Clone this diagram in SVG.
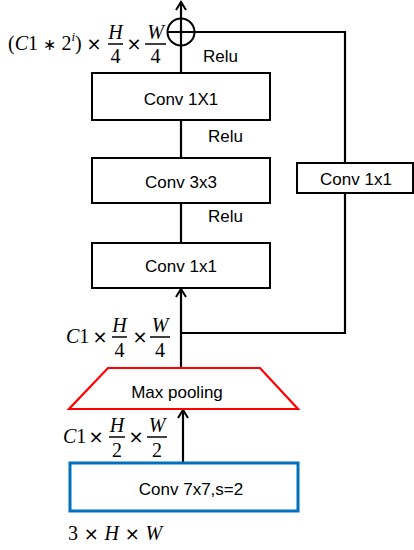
<svg xmlns="http://www.w3.org/2000/svg" width="414" height="550" viewBox="0 0 414 550">
<defs>
<marker id="arr" viewBox="0 0 12 12" refX="10" refY="6" markerWidth="12" markerHeight="12" markerUnits="userSpaceOnUse" orient="auto">
<path d="M2,1 L10,6 L2,11" fill="none" stroke="#000" stroke-width="2"/>
</marker>
<style>
.box{fill:#fff;stroke:#000;stroke-width:2}
.lbl{font-family:"Liberation Sans",Arial,sans-serif;font-size:17px;fill:#000}
.c{text-anchor:middle}
.ln{fill:none;stroke:#000;stroke-width:2.2}
.m{font-family:"Liberation Serif","Times New Roman",serif;font-size:20px;fill:#000}
.mi{font-style:italic}
.x{font-family:"DejaVu Sans",sans-serif;font-size:18px;text-anchor:middle;fill:#000}
.bar{stroke:#000;stroke-width:1.5}
</style>
</defs>
<rect width="414" height="550" fill="#fff"/>
<g id="connectors">
<line class="ln" x1="181" y1="73" x2="181" y2="2" marker-end="url(#arr)"/>
<line class="ln" x1="181" y1="158" x2="181" y2="120"/>
<line class="ln" x1="181" y1="243" x2="181" y2="203"/>
<line class="ln" x1="181" y1="368" x2="181" y2="289" marker-end="url(#arr)"/>
<line class="ln" x1="183" y1="463" x2="183" y2="410" marker-end="url(#arr)"/>
<polyline class="ln" points="194,32 345,32 345,333 181,333"/>
</g>
<g id="add">
<circle cx="181" cy="32" r="13.5" fill="none" stroke="#000" stroke-width="2"/>
<line x1="167.5" y1="32" x2="194.5" y2="32" stroke="#000" stroke-width="2"/>
</g>
<g id="conv1x1_top">
<rect class="box" x="92" y="73" width="178" height="47"/>
<text class="lbl c" x="181" y="105">Conv 1X1</text>
</g>
<g id="conv3x3">
<rect class="box" x="92" y="158" width="178" height="45"/>
<text class="lbl c" x="181" y="188">Conv 3x3</text>
</g>
<g id="conv1x1_bottom">
<rect class="box" x="92" y="243" width="178" height="45"/>
<text class="lbl c" x="181" y="272">Conv 1x1</text>
</g>
<g id="conv1x1_side">
<rect class="box" x="297" y="163" width="116" height="30"/>
<text class="lbl c" x="356" y="185">Conv 1x1</text>
</g>
<g id="maxpool">
<polygon points="108,368 260,368 298,409 69,409" fill="#fff" stroke="#FF0000" stroke-width="2.2"/>
<text class="lbl c" x="177" y="398">Max pooling</text>
</g>
<g id="conv7x7">
<rect x="70" y="463" width="228" height="48" fill="#fff" stroke="#0070C0" stroke-width="3"/>
<text class="lbl c" x="191" y="495">Conv 7x7,s=2</text>
</g>
<g id="relu_labels">
<text class="lbl" x="203" y="62">Relu</text>
<text class="lbl" x="208" y="142">Relu</text>
<text class="lbl" x="208" y="222">Relu</text>
</g>
<g id="dim_top">
<text class="m" x="8" y="50">(<tspan class="mi">C</tspan>1 <tspan font-family="DejaVu Sans" font-size="16">∗</tspan> 2<tspan class="mi" font-size="13" dy="-9">i</tspan><tspan dy="9">)</tspan></text>
<text class="x" x="94" y="50">×</text>
<text class="m mi c" x="115.5" y="39">H</text>
<line class="bar" x1="108" y1="44" x2="123" y2="44"/>
<text class="m c" x="115.5" y="63">4</text>
<text class="x" x="134" y="50">×</text>
<text class="m mi c" x="155.5" y="39">W</text>
<line class="bar" x1="145" y1="44" x2="166" y2="44"/>
<text class="m c" x="155.5" y="63">4</text>
</g>
<g id="dim_mid">
<text class="m" x="66" y="343"><tspan class="mi">C</tspan>1</text>
<text class="x" x="100" y="343">×</text>
<text class="m mi c" x="119.5" y="332">H</text>
<line class="bar" x1="112" y1="337" x2="127" y2="337"/>
<text class="m c" x="119.5" y="357">4</text>
<text class="x" x="140" y="343">×</text>
<text class="m mi c" x="160" y="332">W</text>
<line class="bar" x1="150" y1="337" x2="170" y2="337"/>
<text class="m c" x="160" y="357">4</text>
</g>
<g id="dim_low">
<text class="m" x="63" y="443"><tspan class="mi">C</tspan>1</text>
<text class="x" x="96" y="443">×</text>
<text class="m mi c" x="117" y="432">H</text>
<line class="bar" x1="109" y1="437" x2="125" y2="437"/>
<text class="m c" x="117" y="457">2</text>
<text class="x" x="136" y="443">×</text>
<text class="m mi c" x="157" y="432">W</text>
<line class="bar" x1="147" y1="437" x2="167" y2="437"/>
<text class="m c" x="157" y="457">2</text>
</g>
<g id="dim_input">
<text class="m" x="68" y="540">3<tspan font-family="DejaVu Sans" font-size="18"> × </tspan><tspan class="mi">H</tspan><tspan font-family="DejaVu Sans" font-size="18"> × </tspan><tspan class="mi">W</tspan></text>
</g>
</svg>
